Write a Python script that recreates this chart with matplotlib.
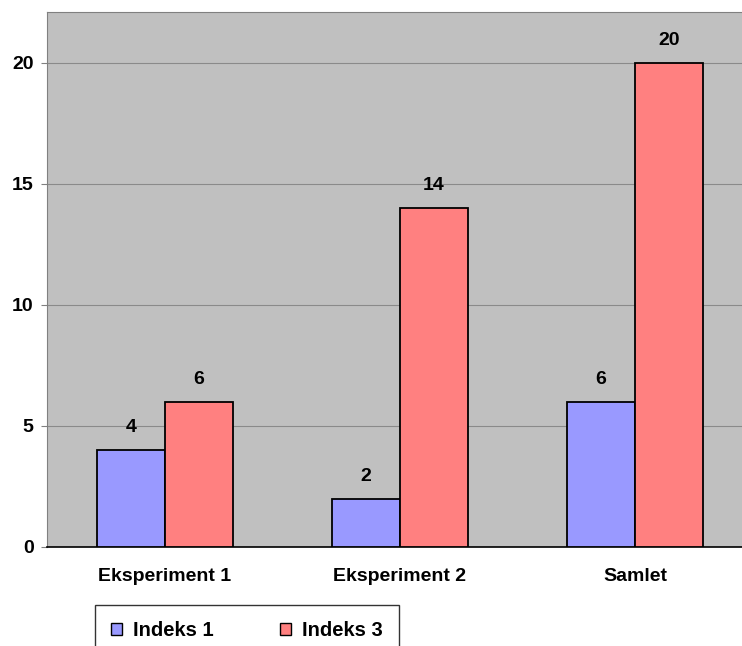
import numpy as np
import matplotlib.pyplot as plt
from matplotlib.patches import Patch

categories = ["Eksperiment 1", "Eksperiment 2", "Samlet"]
series_names = ["Indeks 1", "Indeks 3"]
indeks1 = [4, 2, 6]
indeks3 = [6, 14, 20]
colors = ["#9999ff", "#ff8080"]

plt.rcParams["font.family"] = ["Liberation Sans", "DejaVu Sans"]
plt.rcParams["font.weight"] = "bold"

fig = plt.figure(figsize=(7.42, 6.46), dpi=100)
ax = fig.add_axes([0.064, 0.1533, 0.950, 0.828])
ax.set_facecolor("#c0c0c0")

x = np.arange(len(categories))
w = 0.29
b1 = ax.bar(x - w / 2, indeks1, w, color=colors[0], edgecolor="black", linewidth=1.3, zorder=3)
b2 = ax.bar(x + w / 2, indeks3, w, color=colors[1], edgecolor="black", linewidth=1.3, zorder=3)

for bars in (b1, b2):
    for r in bars:
        ax.annotate(f"{int(r.get_height())}", (r.get_x() + r.get_width() / 2, r.get_height()),
                    xytext=(0, 10), textcoords="offset points", ha="center", va="bottom",
                    fontsize=14, fontweight="bold")

ax.set_xlim(-0.5, 2.5)
ax.set_ylim(0, 22.1)
ax.set_yticks([0, 5, 10, 15, 20])
ax.yaxis.grid(True, color="#8a8a8a", linewidth=0.8, zorder=0)
ax.set_xticks(x)
ax.set_xticklabels(categories)
ax.tick_params(axis="x", length=0, pad=15, labelsize=14)
ax.tick_params(axis="y", length=4, color="#808080", pad=6, labelsize=14)

for s in ("top", "right", "left"):
    ax.spines[s].set_color("#808080")
ax.spines["bottom"].set_color("black")
ax.spines["bottom"].set_linewidth(1.2)

handles = [Patch(facecolor=c, edgecolor="black", linewidth=1) for c in colors]
leg = fig.legend(handles, series_names, ncol=2, loc="upper left",
                 bbox_to_anchor=(0.128, 0.064), frameon=True, fancybox=False,
                 edgecolor="black", handlelength=0.55, handleheight=0.55,
                 columnspacing=3.3, handletextpad=0.55, borderpad=0.8,
                 borderaxespad=0.0, prop={"size": 14.5, "weight": "bold"})
leg.get_frame().set_linewidth(1.0)

fig.savefig("out.png", dpi=100)
